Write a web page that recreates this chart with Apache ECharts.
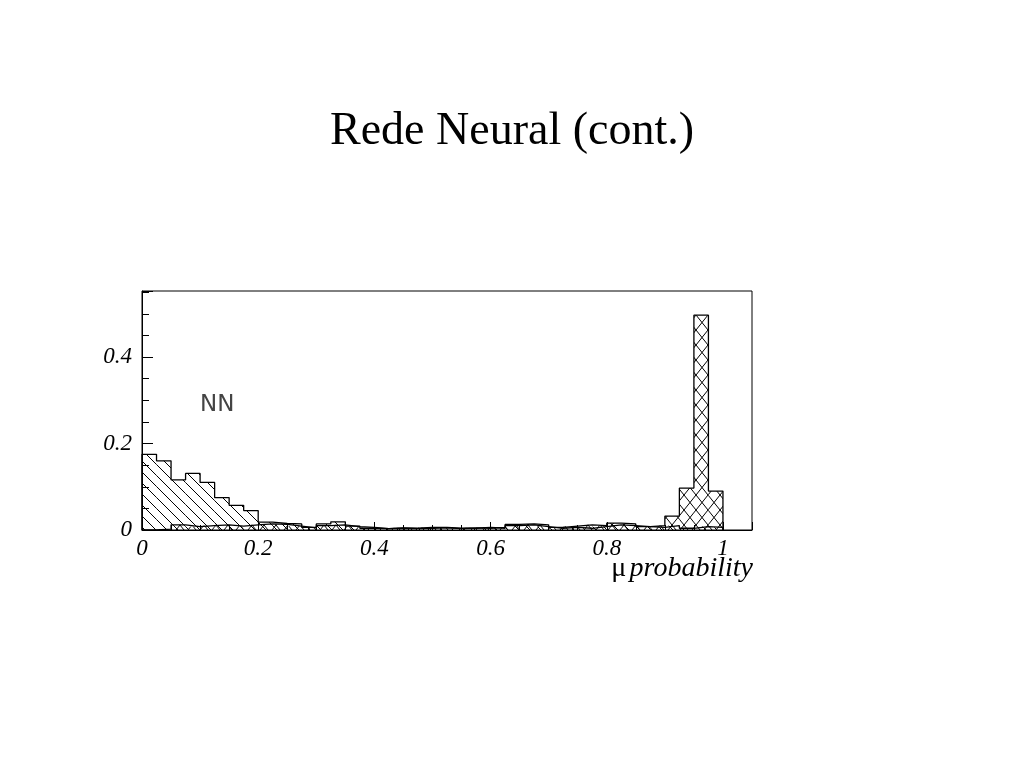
<!DOCTYPE html>
<html>
<head>
<meta charset="utf-8">
<script src="https://cdn.jsdelivr.net/npm/echarts@6/dist/echarts.min.js"></script>
<style>
html,body{margin:0;padding:0;background:#fff;}
#chart{width:1024px;height:768px;}
</style>
</head>
<body>
<div id="chart"></div>
<script>
// Bin lower edges (width 0.025)
const binStarts = [0,0.025,0.05,0.075,0.1,0.125,0.15,0.175,0.2,0.225,0.25,0.275,0.3,0.325,0.35,0.375,0.4,0.425,0.45,0.475,
                   0.5,0.525,0.55,0.575,0.6,0.625,0.65,0.675,0.7,0.725,0.75,0.775,0.8,0.825,0.85,0.875,0.9,0.925,0.95,0.975];
const binWidth = 0.025;
// Background (single-hatched) histogram
const pionValues = [0.175,0.160,0.116,0.131,0.110,0.075,0.057,0.045,0.018,0.015,0.014,0.006,0.014,0.019,0.009,0.004,0.003,0.004,0.003,0.004,
                    0.005,0.003,0.004,0.006,0.004,0.010,0.012,0.008,0.004,0.006,0.004,0.008,0.012,0.010,0.008,0.006,0.010,0.004,0.008,0.006];
// Muon (cross-hatched) histogram
const muonValues = [0.000,0.002,0.012,0.008,0.010,0.012,0.009,0.012,0.014,0.013,0.009,0.005,0.010,0.012,0.008,0.006,0.003,0.005,0.004,0.006,
                    0.006,0.004,0.005,0.004,0.006,0.013,0.014,0.012,0.006,0.009,0.012,0.010,0.016,0.014,0.008,0.010,0.032,0.097,0.497,0.090];
const xTickLabels = ['0','0.2','0.4','0.6','0.8','1'];
const yTickLabels = ['0','0.2','0.4'];

function makePattern(kind){
  const c = document.createElement('canvas');
  const s = kind === 'single' ? 11 : 12;
  c.width = s; c.height = kind === 'single' ? s : 15;
  const g = c.getContext('2d');
  g.strokeStyle = '#000'; g.lineWidth = 1;
  const w = c.width, h = c.height;
  g.beginPath();
  g.moveTo(-w, -h); g.lineTo(2*w, 2*h);
  g.moveTo(0, -h); g.lineTo(2*w, h);
  g.moveTo(-w, 0); g.lineTo(w, 2*h);
  if (kind === 'cross') {
    g.moveTo(2*w, -h); g.lineTo(-w, 2*h);
    g.moveTo(w, -h); g.lineTo(-w, h);
    g.moveTo(2*w, 0); g.lineTo(0, 2*h);
  }
  g.stroke();
  return {image: c, repeat: 'repeat'};
}
const singlePat = makePattern('single');
const crossPat = makePattern('cross');

function fillData(vals){ return vals.map((v,i)=>[binStarts[i], binStarts[i]+binWidth, v]); }
function outlineData(vals){
  const d = [[binStarts[0],0]];
  vals.forEach((v,i)=>d.push([binStarts[i], v]));
  const last = binStarts[binStarts.length-1] + binWidth;
  d.push([last, vals[vals.length-1]]);
  d.push([last, 0]);
  return d;
}
function fillSeries(vals, pat){
  return {
    type:'custom', data: fillData(vals), silent:true,
    renderItem(params, api){
      const p0 = api.coord([api.value(0), api.value(2)]);
      const p1 = api.coord([api.value(1), 0]);
      return {type:'rect', shape:{x:p0[0], y:p0[1], width:p1[0]-p0[0], height:p1[1]-p0[1]},
              style:{fill: pat, stroke: null}};
    }
  };
}
function outlineSeries(vals){
  return {type:'line', step:'end', data: outlineData(vals), symbol:'none', silent:true,
          lineStyle:{color:'#000', width:1.3}};
}

const font = "'Liberation Serif','Times New Roman',serif";
const chart = echarts.init(document.getElementById('chart'));
chart.setOption({
  animation:false,
  backgroundColor:'#fff',
  title:{text:'Rede Neural (cont.)', left:'center', top:104,
         textStyle:{fontFamily:font, fontWeight:'normal', fontSize:46, color:'#000'}},
  grid:{left:142, right:272, top:291, bottom:238, show:true, borderColor:'#000', borderWidth:1, backgroundColor:'transparent'},
  xAxis:{type:'value', min:0, max:1.05, interval:0.2,
    axisLine:{lineStyle:{color:'#000', width:1}},
    axisTick:{inside:true, length:8, lineStyle:{color:'#000'}},
    minorTick:{show:true, splitNumber:4, length:5, lineStyle:{color:'#000'}},
    splitLine:{show:false},
    axisLabel:{showMaxLabel:false, margin:7, color:'#000', fontFamily:font, fontStyle:'italic', fontSize:23,
      formatter:(v)=>{const i=Math.round(v/0.2); return Math.abs(v-i*0.2)<1e-6 ? xTickLabels[i] : '';}}
  },
  yAxis:{type:'value', min:0, max:0.553, interval:0.2,
    axisLine:{show:true, lineStyle:{color:'#000', width:1}},
    axisTick:{inside:true, length:11, lineStyle:{color:'#000'}},
    minorTick:{show:true, splitNumber:4, length:7, lineStyle:{color:'#000'}},
    splitLine:{show:false},
    axisLabel:{showMaxLabel:false, margin:10, color:'#000', fontFamily:font, fontStyle:'italic', fontSize:23,
      formatter:(v)=>{const i=Math.round(v/0.2); return Math.abs(v-i*0.2)<1e-6 ? yTickLabels[i] : '';}}
  },
  graphic:[
    {type:'text', left:200, top:394, style:{text:'NN', font:"23px 'DejaVu Sans', sans-serif", fill:'#444'}},
    {type:'text', right:271, top:555, style:{
      text:'{m|μ} {p|probability}',
      rich:{m:{fontFamily:font, fontSize:28, fill:'#000', fontStyle:'normal'},
            p:{fontFamily:font, fontSize:28, fill:'#000', fontStyle:'italic'}}}}
  ],
  series:[fillSeries(pionValues, singlePat), fillSeries(muonValues, crossPat),
          outlineSeries(pionValues), outlineSeries(muonValues)]
});
</script>
</body>
</html>
